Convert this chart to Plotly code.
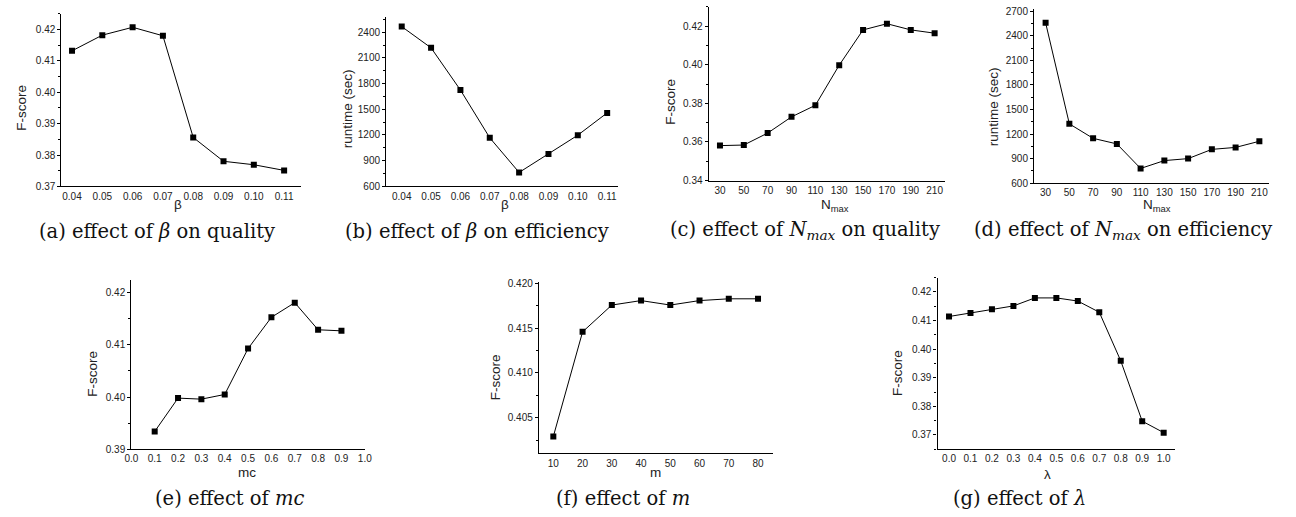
import plotly.graph_objects as go

W, H = 1296, 517

# ---------------- data ----------------
beta = [0.04, 0.05, 0.06, 0.07, 0.08, 0.09, 0.10, 0.11]
beta_fscore = [0.4132, 0.4182, 0.4207, 0.4180, 0.3856, 0.3780, 0.3769, 0.3751]
beta_runtime = [2465, 2217, 1725, 1167, 763, 977, 1198, 1458]

nmax = [30, 50, 70, 90, 110, 130, 150, 170, 190, 210]
nmax_fscore = [0.3581, 0.3584, 0.3646, 0.3730, 0.3790, 0.3998, 0.4181, 0.4213, 0.4181, 0.4164]
nmax_runtime = [2561, 1325, 1148, 1080, 780, 876, 900, 1013, 1037, 1112]

mc = [0.1, 0.2, 0.3, 0.4, 0.5, 0.6, 0.7, 0.8, 0.9]
mc_fscore = [0.3934, 0.3998, 0.3996, 0.4005, 0.4093, 0.4153, 0.4181, 0.4129, 0.4127]

m_vals = [10, 20, 30, 40, 50, 60, 70, 80]
m_fscore = [0.4029, 0.4146, 0.4176, 0.4181, 0.4176, 0.4181, 0.4183, 0.4183]

lam = [0.0, 0.1, 0.2, 0.3, 0.4, 0.5, 0.6, 0.7, 0.8, 0.9, 1.0]
lam_fscore = [0.4114, 0.4126, 0.4139, 0.4151, 0.4179, 0.4179, 0.4168, 0.4129, 0.3959, 0.3748, 0.3708]

beta_ticks = [0.04, 0.05, 0.06, 0.07, 0.08, 0.09, 0.10, 0.11]
nmax_ticks = [30, 50, 70, 90, 110, 130, 150, 170, 190, 210]
mc_ticks = [0.0, 0.1, 0.2, 0.3, 0.4, 0.5, 0.6, 0.7, 0.8, 0.9, 1.0]
m_ticks = [10, 20, 30, 40, 50, 60, 70, 80]
lam_ticks = [0.0, 0.1, 0.2, 0.3, 0.4, 0.5, 0.6, 0.7, 0.8, 0.9, 1.0]

captions = [
    "(a) effect of <i>β</i> on quality",
    "(b) effect of <i>β</i> on efficiency",
    "(c) effect of <i>N<sub>max</sub></i> on quality",
    "(d) effect of <i>N<sub>max</sub></i> on efficiency",
    "(e) effect of <i>mc</i>",
    "(f) effect of <i>m</i>",
    "(g) effect of <i>λ</i>",
]

# ---------------- panel specs ----------------
panels = [
    dict(x=beta, y=beta_fscore, xt=beta_ticks, xfmt=".2f", xr=[0.0365, 0.1155],
         yr=[0.37, 0.425], y0=0.37, yd=0.01, yfmt=".2f", ym=0.005, box=(55, 297, 10, 186),
         xtitle="β", ytitle="F-score", cap=(152, 232), xtp=(173, 204), ytp=(15, 106)),
    dict(x=beta, y=beta_runtime, xt=beta_ticks, xfmt=".2f", xr=[0.0347, 0.1138],
         yr=[600, 2580], y0=600, yd=300, yfmt="d", ym=150, box=(383.3, 618, 13, 186),
         xtitle="β", ytitle="runtime (sec)", cap=(475, 232), xtp=(503, 204), ytp=(345, 107)),
    dict(x=nmax, y=nmax_fscore, xt=nmax_ticks, xfmt="d", xr=[20.5, 218.5],
         yr=[0.34, 0.43], y0=0.34, yd=0.02, yfmt=".2f", ym=0.01, box=(709.3, 948, 3, 180),
         xtitle="N<sub>max</sub>", ytitle="F-score", cap=(807, 231), xtp=(837, 205), ytp=(670, 100)),
    dict(x=nmax, y=nmax_runtime, xt=nmax_ticks, xfmt="d", xr=[20.3, 218.3],
         yr=[600, 2730], y0=600, yd=300, yfmt="d", ym=150, box=(1038.3, 1276, 5, 182.7),
         xtitle="N<sub>max</sub>", ytitle="runtime (sec)", cap=(1128, 231), xtp=(1163, 205), ytp=(998, 105)),
    dict(x=mc, y=mc_fscore, xt=mc_ticks, xfmt=".1f", xr=[0.0, 1.0],
         yr=[0.39, 0.4224], y0=0.39, yd=0.01, yfmt=".2f", ym=0.005, box=(125.7, 361.7, 281.7, 454),
         xtitle="mc", ytitle="F-score", cap=(225, 504), xtp=(243, 478), ytp=(87, 377)),
    dict(x=m_vals, y=m_fscore, xt=m_ticks, xfmt="d", xr=[5.06, 85],
         yr=[0.4010, 0.4202], y0=0.405, yd=0.005, yfmt=".3f", ym=0.0025, box=(537.7, 774, 283.3, 458.3),
         xtitle="m", ytitle="F-score", cap=(623, 504), xtp=(656, 478), ytp=(494, 381)),
    dict(x=lam, y=lam_fscore, xt=lam_ticks, xfmt=".1f", xr=[-0.0535, 1.0525],
         yr=[0.365, 0.425], y0=0.37, yd=0.01, yfmt=".2f", ym=0.005, box=(940.7, 1180.7, 279, 454),
         xtitle="λ", ytitle="F-score", cap=(1024, 504), xtp=(1052, 480), ytp=(900, 376)),
]

fig = go.Figure()
annotations = []
layout_axes = {}

TICKFONT = dict(family="Liberation Sans, Arial, sans-serif", size=10, color="#222")
TITLEFONT = dict(family="Liberation Sans, Arial, sans-serif", size=13.5, color="#222")
CAPFONT = dict(family="DejaVu Serif, serif", size=19.5, color="#111")

for i, p in enumerate(panels):
    n = i + 1
    xa = "x" if n == 1 else f"x{n}"
    ya = "y" if n == 1 else f"y{n}"
    fig.add_trace(go.Scatter(
        x=p["x"], y=p["y"], mode="lines+markers", xaxis=xa, yaxis=ya,
        line=dict(color="black", width=1),
        marker=dict(symbol="square", size=6, color="black"),
        showlegend=False, hoverinfo="x+y"))
    x0, x1, yt, yb = p["box"]
    xkey = "xaxis" if n == 1 else f"xaxis{n}"
    ykey = "yaxis" if n == 1 else f"yaxis{n}"
    layout_axes[xkey] = dict(
        domain=[x0 / W, x1 / W], anchor=ya, range=p["xr"],
        tickmode="array", tickvals=p["xt"], tickformat=p["xfmt"],
        ticks="",
        showline=True, linecolor="black", linewidth=1.2, mirror=False,
        showgrid=False, zeroline=False, tickfont=TICKFONT, fixedrange=True)
    layout_axes[ykey] = dict(
        domain=[(H - yb) / H, (H - yt) / H], anchor=xa, range=p["yr"],
        tick0=p["y0"], dtick=p["yd"], tickformat=p["yfmt"],
        ticks="outside", ticklen=3, tickcolor="black", tickwidth=1,
        minor=dict(tick0=p["y0"], dtick=p["ym"], ticks="outside", ticklen=2,
                   tickcolor="black", tickwidth=1),
        showline=True, linecolor="black", linewidth=1.2, mirror=False,
        showgrid=False, zeroline=False, tickfont=TICKFONT, fixedrange=True)
    annotations.append(dict(text=captions[i], x=p["cap"][0] / W, y=(H - p["cap"][1]) / H,
                            xref="paper", yref="paper", showarrow=False, font=CAPFONT,
                            xanchor="center", yanchor="middle"))
    annotations.append(dict(text=p["xtitle"], x=p["xtp"][0] / W, y=(H - p["xtp"][1]) / H,
                            xref="paper", yref="paper", showarrow=False, font=TITLEFONT,
                            xanchor="center", yanchor="middle"))
    annotations.append(dict(text=p["ytitle"], x=p["ytp"][0] / W, y=(H - p["ytp"][1]) / H,
                            xref="paper", yref="paper", showarrow=False, font=TITLEFONT,
                            textangle=-90, xanchor="center", yanchor="middle"))

fig.update_layout(
    width=W, height=H, margin=dict(l=0, r=0, t=0, b=0),
    paper_bgcolor="white", plot_bgcolor="white",
    annotations=annotations, **layout_axes)

fig.write_html("out.html", config={"displayModeBar": False},
               post_script="document.body.style.margin='0';document.body.style.overflow='hidden';")
